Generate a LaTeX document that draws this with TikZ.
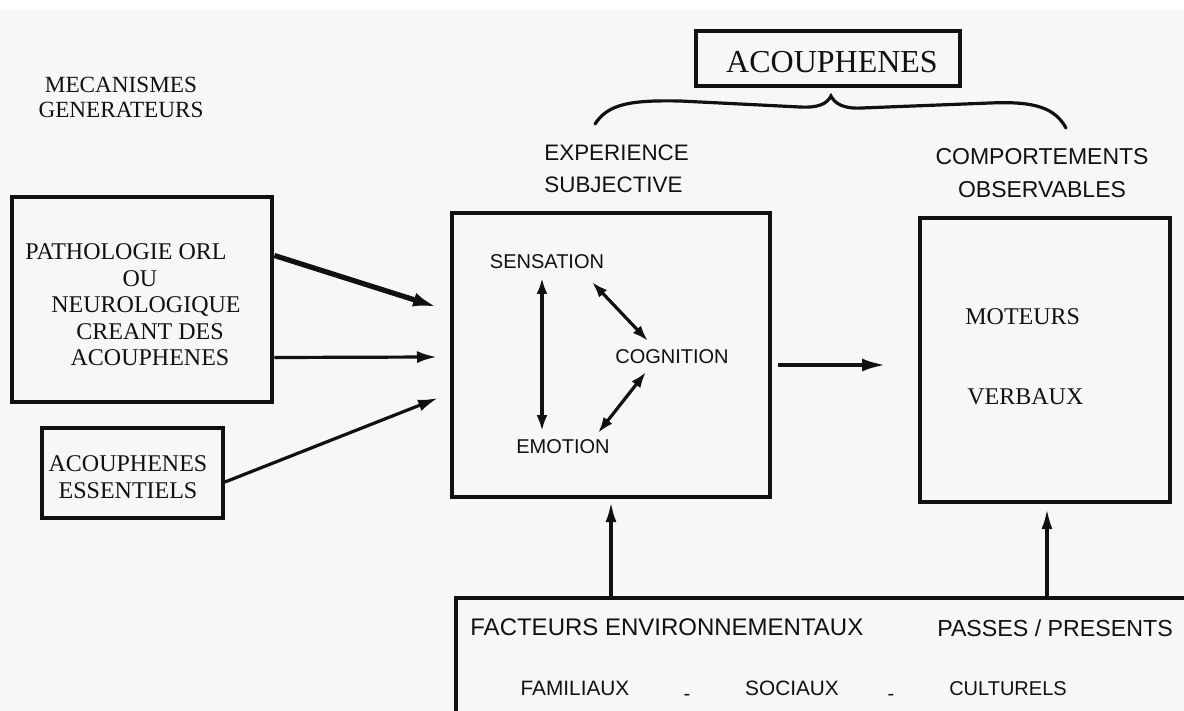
\documentclass[tikz,border=0pt]{standalone}
\usepackage{fontspec}
\setmainfont{Liberation Serif}
\setsansfont{Liberation Sans}
\usetikzlibrary{arrows.meta,calc}
\definecolor{bg}{HTML}{F7F7F7}
\definecolor{ink}{HTML}{111111}
\begin{document}
\begin{tikzpicture}[x=0.5pt,y=-0.5pt,
  box/.style={draw=ink, line width=2pt, inner sep=0pt},
  serif/.style={font=\fontsize{12}{13.25}\selectfont, align=center, inner sep=0pt, text=ink},
  sanslab/.style={font=\sffamily\fontsize{10}{12}\selectfont, inner sep=0pt, text=ink},
  title/.style={font=\sffamily\fontsize{11.2}{16}\selectfont, inner sep=0pt, text=ink},
  arr/.style={draw=ink, line width=1.6pt, -{Latex[length=10pt,width=6pt]}},
  dbl/.style={draw=ink, line width=1.6pt, {Latex[length=8pt,width=5.5pt]}-{Latex[length=8pt,width=5.5pt]}}]
\useasboundingbox (0,0) rectangle (1184,711);
\fill[white] (0,0) rectangle (1184,711);
\fill[bg] (0,10) rectangle (1184,711);

% titles
\node[serif, font=\fontsize{11.6}{12.5}\selectfont] (meca) at (121,97) {MECANISMES\\GENERATEURS};
\node[box, minimum width=132pt, minimum height=27.5pt] (acou) at (828,58.5) {};
\node[serif, font=\fontsize{16}{18}\selectfont] (acoutxt) at (832,62) {ACOUPHENES};
\draw[ink, line width=1.6pt, line cap=round]
  (595,124) .. controls (608,104) and (630,100) .. (680,101) -- (800,107)
  .. controls (818,108) and (827,104) .. (831,96)
  .. controls (835,104) and (844,109) .. (862,108) -- (990,103)
  .. controls (1035,101) and (1055,108) .. (1066,128);
\node[title, align=left, anchor=west] (exp) at (544,169) {EXPERIENCE\\SUBJECTIVE};
\node[title, align=center, font=\sffamily\fontsize{11.5}{16.5}\selectfont] (comp) at (1042,173) {COMPORTEMENTS\\OBSERVABLES};

% left boxes
\node[box, line width=2.4pt, minimum width=130pt, minimum height=102.5pt] (patho) at (142,299.5) {};
\node[serif] (pathotxt) at (140,305) {PATHOLOGIE ORL\hspace*{14pt}\\OU\\\hspace*{6pt}NEUROLOGIQUE\\\hspace*{10pt}CREANT DES\\\hspace*{10pt}ACOUPHENES};
\node[box, minimum width=90.5pt, minimum height=45pt] (ess) at (132.5,473) {};
\node[serif, font=\fontsize{12}{13.5}\selectfont] (esstxt) at (128,477) {ACOUPHENES\\ESSENTIELS};

% central box
\node[box, minimum width=159pt, minimum height=142pt] (central) at (611,355) {};
\node[sanslab] (sens) at (547,262) {SENSATION};
\node[sanslab] (cog) at (672,357) {COGNITION};
\node[sanslab] (emo) at (563,447) {EMOTION};
\coordinate (s1) at (542,278);
\coordinate (e1) at (542,431);
\coordinate (s2) at (592,282);
\coordinate (c2) at (648,341);
\coordinate (c3) at (646,372);
\coordinate (e3) at (598,433);
\draw[dbl] (s1) -- (e1);
\draw[dbl] (s2) -- (c2);
\draw[dbl] (c3) -- (e3);

% right box
\node[box, minimum width=125pt, minimum height=142pt] (right) at (1045,360) {};
\node[serif, anchor=west] (mot) at (965,317) {MOTEURS};
\node[serif, anchor=west] (verb) at (967,397) {VERBAUX};

% bottom box
\node[box, minimum width=373pt, minimum height=67pt, anchor=north west] (env) at (454,596) {};
\node[title, font=\sffamily\fontsize{12}{14}\selectfont, anchor=west] (fact) at (470,627) {FACTEURS ENVIRONNEMENTAUX};
\node[title, font=\sffamily\fontsize{11.6}{14}\selectfont] (pass) at (1055,628) {PASSES / PRESENTS};
\node[sanslab, font=\sffamily\fontsize{10.4}{12}\selectfont] (fam) at (575,688) {FAMILIAUX};
\node[sanslab, font=\sffamily\fontsize{10.4}{12}\selectfont] (soc) at (792,688) {SOCIAUX};
\node[sanslab, font=\sffamily\fontsize{10}{12}\selectfont] (cult) at (1008,689) {CULTURELS};
\node[sanslab, font=\sffamily\fontsize{10}{12}\selectfont] (d1) at (687,697) {-};
\node[sanslab, font=\sffamily\fontsize{10}{12}\selectfont] (d2) at (891,697) {-};

% connectors
\coordinate (t1) at (437,307);
\coordinate (t2) at (437,357);
\coordinate (t3) at (438,398);
\draw[arr, line width=2.6pt, -{Latex[length=12pt,width=7pt]}] ([yshift=22pt]patho.east) -- (t1);
\draw[arr] ([yshift=-29pt]patho.east) -- (t2);
\draw[arr] ([yshift=-4.5pt]ess.east) -- (t3);
\coordinate (m1) at (778,365);
\coordinate (m2) at (886,365);
\draw[arr, line width=2pt, -{Latex[length=12pt,width=6.5pt]}] (m1) -- (m2);
\draw[arr, -{Latex[length=10pt,width=5.5pt]}] (env.north -| central.south) -- ([yshift=-1.5pt]central.south);
\draw[arr, -{Latex[length=10pt,width=5.5pt]}] ([xshift=1pt]env.north -| right.south) -- ([xshift=1pt,yshift=-2.5pt]right.south);
\end{tikzpicture}
\end{document}
